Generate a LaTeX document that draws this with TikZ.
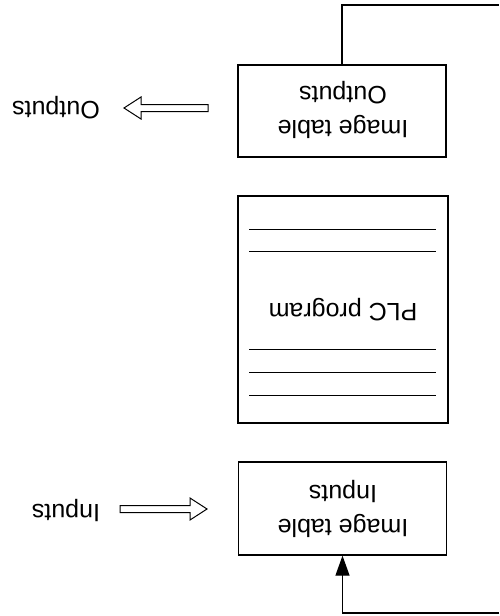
\documentclass[tikz,border=0pt]{standalone}
\usepackage{fontspec}
\setmainfont{Liberation Sans}
\usetikzlibrary{arrows.meta}
\begin{document}
\begin{tikzpicture}[x=1pt,y=-1pt,
  txt/.style={font=\fontsize{25}{34}\selectfont, rotate=180, align=center, inner sep=0pt},
  blockbox/.style={draw, line width=1.3pt, minimum width=208pt, inner sep=0pt},
  hollow/.style={draw, line width=1pt, fill=white, line join=miter},
  conn/.style={line width=1.2pt},
  rule/.style={line width=1pt}]
\useasboundingbox (0,0) rectangle (499,616);
% boxes
\node[blockbox, minimum height=92pt] (outbox) at (342,111) {};
\node[txt] (outtxt) at (343,110) {Image table\\Outputs};
\node[blockbox, minimum height=227pt, minimum width=210pt] (plc) at (343,309.5) {};
\node[txt] (plctxt) at (343,310) {PLC program};
\node[blockbox, minimum height=93pt] (inbox) at (342.5,508.5) {};
\node[txt] (intxt) at (343,509) {Image table\\Inputs};
% program lines
\foreach \yy in {229,251,349,372,395} \draw[rule] (249,\yy) -- (436,\yy);
% side labels
\node[txt] (outlbl) at (56,108) {Outputs};
\node[txt] (inlbl) at (66,510) {Inputs};
% hollow arrows
\draw[hollow] (208,104.5) -- (141,104.5) -- (141,97) -- (124,108) -- (141,119) -- (141,111.5) -- (208,111.5) -- cycle;
\draw[hollow] (120,505.5) -- (190,505.5) -- (190,498) -- (207,509) -- (190,520) -- (190,512.5) -- (120,512.5) -- cycle;
% connectors
\coordinate (tr) at (499,5);
\coordinate (br) at (499,613);
\draw[conn] (outbox.north) |- (tr);
\draw[conn, -{Triangle[length=20pt,width=14pt]}] (br) -| (inbox.south);
\end{tikzpicture}
\end{document}
